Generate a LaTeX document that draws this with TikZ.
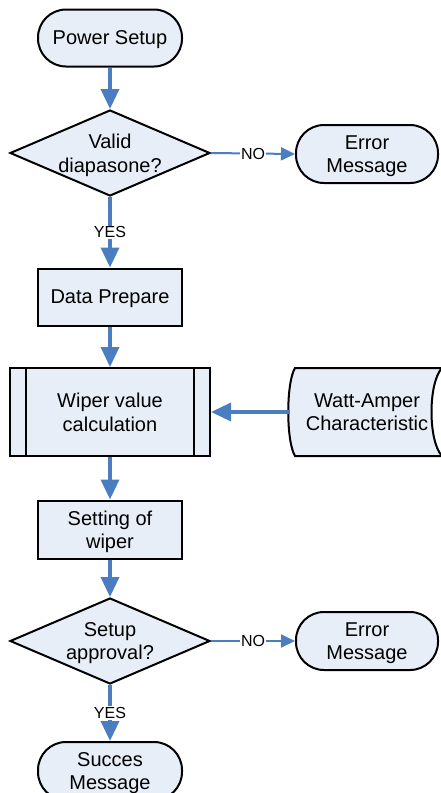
\documentclass[tikz,border=0pt]{standalone}
\usepackage{fontspec}
\setmainfont{Liberation Sans}
\usetikzlibrary{arrows.meta,shapes.geometric,calc}
\definecolor{boxfill}{RGB}{232,238,248}
\definecolor{flowblue}{RGB}{74,126,193}

\begin{document}
\begin{tikzpicture}[x=1pt,y=-1pt,
  every node/.style={font=\fontsize{20}{23.5}\selectfont,align=center,text depth=0pt},
  terminal/.style={draw,line width=2pt,fill=boxfill,rounded corners=28pt,
    minimum width=144pt,minimum height=57pt,inner sep=0pt},
  decision/.style={draw,line width=2pt,fill=boxfill,shape=diamond,aspect=2.33,
    inner xsep=-3pt,inner ysep=0pt,minimum width=200pt,minimum height=86pt},
  process/.style={draw,line width=2pt,fill=boxfill,
    minimum width=144pt,minimum height=57pt,inner sep=0pt},
  subproc/.style={process,minimum width=200pt,minimum height=88pt},
  flow/.style={draw=flowblue,line width=3.5pt,-{Triangle[length=20pt,width=18pt]}},
  noflow/.style={draw=flowblue,line width=2pt,-{Triangle[length=14pt,width=13pt]}},
  lbl/.style={font=\fontsize{16}{18}\selectfont,fill=white,inner sep=1pt}]
\useasboundingbox (0,0) rectangle (441,793);

% stored data shape behind the text node
\filldraw[fill=boxfill,line width=2pt] (295,368) -- (442,368)
  .. controls (428,383) and (428,441) .. (442,456) -- (295,456)
  .. controls (286,441) and (286,383) .. (295,368) -- cycle;

\node[terminal] (power) at (110,38) {Power Setup};
\node[decision] (valid) at (110,153) {Valid\\diapasone?};
\node[terminal,minimum width=142pt,minimum height=58pt] (err1) at (367,154) {Error\\Message};
\node[process] (prep) at (110,297) {Data Prepare};
\node[subproc] (wiper) at (110,412) {Wiper value\\calculation};
\node[minimum width=154pt,minimum height=88pt,inner sep=0pt] (watt) at (367,412) {Watt-Amper\\Characteristic};
\node[process,minimum height=58pt] (setw) at (110,529.5) {Setting of\\wiper};
\node[decision] (approve) at (110,641) {Setup\\approval?};
\node[terminal,minimum width=142pt,minimum height=58pt] (err2) at (367,641) {Error\\Message};
\node[terminal,minimum height=58pt] (success) at (110,771) {Succes\\Message};

\draw[line width=2pt] ($(wiper.north west)+(17,0)$) -- ($(wiper.south west)+(17,0)$);
\draw[line width=2pt] ($(wiper.north east)+(-17,0)$) -- ($(wiper.south east)+(-17,0)$);

\draw[flow] (power) -- (valid);
\draw[noflow] (valid.east) -- node[lbl] {NO} (err1.west);
\draw[flow] (valid.south) -- node[lbl] {YES} (prep.north);
\draw[flow] (prep) -- (wiper);
\draw[flow] (watt.west) -- (wiper.east);
\draw[flow] (wiper) -- (setw);
\draw[flow] (setw) -- (approve);
\draw[noflow] (approve.east) -- node[lbl] {NO} (err2.west);
\draw[flow] (approve.south) -- node[lbl] {YES} (success.north);
\end{tikzpicture}
\end{document}
